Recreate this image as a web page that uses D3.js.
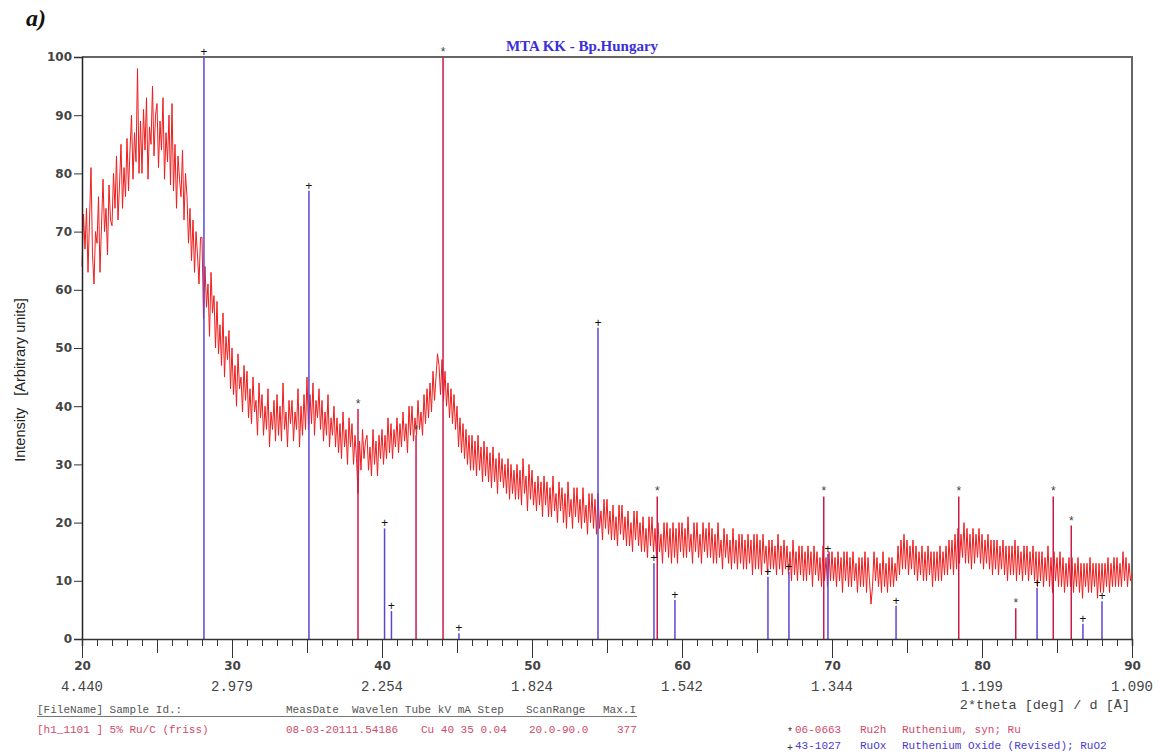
<!DOCTYPE html>
<html>
<head>
<meta charset="utf-8">
<script src="https://cdn.jsdelivr.net/npm/d3@7"></script>
<style>
  body { margin: 0; background: #fff; }
  svg text { white-space: pre; }
</style>
</head>
<body>
<div id="chart"></div>
<script>
// scan grid: 20.0 .. 90.0 deg, every 0.1 deg
const scanStart = 20, scanStep = 0.1;
// measured intensity (one row per degree)
const intensity = [
  64, 73, 67, 74, 63, 72, 81, 66, 61, 70,
  68, 76, 63, 71, 79, 70, 74, 66, 78, 72,
  71, 80, 74, 83, 72, 78, 85, 74, 81, 76,
  86, 77, 84, 90, 79, 87, 82, 98, 80, 89,
  80, 91, 84, 93, 79, 88, 85, 95, 83, 90,
  92, 81, 89, 84, 93, 79, 87, 82, 90, 78,
  92, 77, 85, 74, 83, 79, 76, 84, 72, 80,
  76, 68, 74, 65, 72, 63, 70, 66, 61, 69,
  69, 55, 64, 57, 61, 52, 63, 56, 59, 50,
  58, 49, 54, 47, 56, 45, 52, 48, 53, 43,
  50, 42, 47, 40, 49, 43, 45, 39, 47, 41,
  46, 38, 43, 37, 45, 39, 41, 35, 44, 38,
  42, 35, 40, 36, 43, 33, 39, 36, 41, 34,
  42, 35, 40, 34, 44, 36, 39, 33, 41, 37,
  41, 34, 39, 36, 43, 33, 40, 35, 42, 36,
  45, 36, 42, 37, 44, 35, 41, 38, 43, 36,
  41, 34, 39, 35, 42, 33, 38, 35, 40, 33,
  38, 32, 37, 31, 39, 33, 36, 30, 38, 33,
  37, 30, 35, 31, 25, 34, 29, 36, 31, 34,
  35, 29, 33, 28, 36, 30, 34, 28, 35, 31,
  36, 30, 35, 31, 38, 32, 37, 31, 36, 33,
  38, 32, 37, 33, 39, 34, 37, 32, 40, 35,
  40, 34, 38, 35, 41, 36, 39, 35, 42, 37,
  43, 38, 44, 39, 46, 41, 45, 49, 47, 42,
  48, 41, 46, 40, 44, 38, 43, 37, 42, 36,
  40, 33, 38, 32, 37, 31, 36, 30, 35, 29,
  35, 29, 34, 28, 35, 29, 33, 27, 34, 28,
  33, 27, 32, 26, 33, 27, 31, 25, 32, 27,
  31, 26, 30, 25, 31, 24, 30, 25, 29, 24,
  30, 24, 29, 23, 31, 25, 28, 22, 30, 24,
  29, 23, 27, 22, 28, 23, 27, 21, 28, 23,
  27, 21, 26, 21, 28, 22, 25, 20, 27, 22,
  26, 20, 25, 19, 27, 21, 24, 19, 26, 21,
  26, 20, 24, 19, 26, 20, 23, 18, 25, 20,
  25, 19, 24, 18, 25, 19, 22, 17, 24, 19,
  24, 18, 22, 17, 23, 17, 21, 16, 23, 18,
  23, 17, 21, 16, 22, 16, 20, 15, 22, 17,
  22, 16, 20, 15, 21, 15, 19, 14, 21, 16,
  21, 15, 19, 14, 20, 15, 18, 13, 20, 15,
  20, 14, 19, 13, 20, 14, 19, 13, 20, 15,
  20, 14, 19, 14, 21, 15, 18, 13, 20, 15,
  20, 14, 18, 13, 20, 15, 19, 14, 20, 14,
  19, 13, 18, 13, 20, 14, 17, 12, 19, 14,
  18, 13, 17, 12, 19, 13, 17, 12, 18, 13,
  18, 12, 17, 12, 18, 13, 17, 11, 18, 12,
  18, 12, 17, 11, 18, 13, 16, 11, 17, 12,
  17, 12, 16, 11, 18, 12, 16, 11, 17, 12,
  16, 11, 15, 10, 17, 11, 15, 10, 16, 11,
  16, 10, 15, 10, 16, 11, 15, 9, 16, 11,
  15, 10, 14, 9, 16, 10, 14, 9, 15, 10,
  15, 10, 14, 9, 15, 10, 14, 8, 15, 10,
  15, 9, 14, 9, 15, 10, 13, 8, 14, 9,
  14, 9, 15, 8, 14, 10, 6, 9, 15, 10,
  14, 9, 13, 8, 15, 9, 13, 8, 14, 9,
  14, 9, 13, 10, 16, 11, 17, 12, 18, 12,
  17, 11, 16, 12, 17, 11, 16, 10, 15, 11,
  16, 10, 15, 10, 16, 11, 15, 9, 15, 10,
  15, 10, 16, 10, 15, 11, 16, 11, 17, 12,
  17, 11, 18, 12, 19, 13, 18, 14, 20, 13,
  19, 13, 18, 12, 19, 13, 18, 14, 19, 13,
  18, 12, 17, 13, 18, 12, 17, 11, 17, 12,
  17, 11, 16, 12, 17, 11, 16, 10, 16, 11,
  16, 11, 17, 10, 16, 11, 15, 10, 16, 11,
  16, 10, 15, 11, 16, 10, 15, 9, 15, 10,
  15, 9, 14, 10, 16, 9, 14, 8, 15, 10,
  14, 9, 15, 9, 14, 8, 13, 9, 14, 9,
  14, 8, 13, 9, 14, 8, 13, 7, 13, 9,
  13, 8, 14, 8, 13, 9, 13, 7, 13, 8,
  13, 8, 13, 9, 14, 8, 13, 9, 14, 9,
  14, 9, 13, 9, 15, 10, 14, 9, 13, 10,
  11
];

// reference cards
const ruPos = [38.4, 42.27, 44.07, 58.35, 69.45, 78.45, 82.25, 84.75, 85.95];
const ruInt = [39.5, 35, 100, 24.5, 24.5, 24.5, 5.3, 24.5, 19.5];
const ruo2Pos = [28.13, 35.13, 40.17, 40.63, 45.13, 54.4, 58.13, 59.53, 65.73, 67.13, 69.73, 74.27, 83.67, 86.73, 88.0];
const ruo2Int = [100, 77, 19, 4.8, 1, 53.5, 13, 6.7, 10.7, 11.5, 14.6, 5.7, 8.8, 2.6, 6.5];

const yTicks = [0, 10, 20, 30, 40, 50, 60, 70, 80, 90, 100];
const xMajor = [20, 30, 40, 50, 60, 70, 80, 90];
const dLabels = ["4.440", "2.979", "2.254", "1.824", "1.542", "1.344", "1.199", "1.090"];

const [width, height] = [1161, 753];
const plot = {left: 82, right: 1132, top: 57, bottom: 639};

const svg = d3.select("#chart")
  .append("svg")
  .attr("width", width)
  .attr("height", height);

const x = d3.scaleLinear().domain([20, 90]).range([plot.left, plot.right]);
const y = d3.scaleLinear().domain([0, 100]).range([plot.bottom, plot.top]);

// frame (top + right)
svg.append("path")
  .attr("d", `M${plot.left},${plot.top}H${plot.right}V${plot.bottom}`)
  .attr("fill", "none").attr("stroke", "#666").attr("stroke-width", 2);

// measured pattern
const line = d3.line()
  .x((d, i) => x(scanStart + i * scanStep))
  .y(d => y(d));
svg.append("path")
  .datum(intensity)
  .attr("d", line)
  .attr("fill", "none")
  .attr("stroke", "#ee1c1c")
  .attr("stroke-width", 1);

// stick patterns
const ru = ruPos.map((p, i) => ({p, v: ruInt[i]}));
const ruo2 = ruo2Pos.map((p, i) => ({p, v: ruo2Int[i]}));

svg.selectAll(".ru").data(ru).enter().append("line")
  .attr("class", "ru")
  .attr("x1", d => x(d.p)).attr("x2", d => x(d.p))
  .attr("y1", y(0)).attr("y2", d => y(d.v))
  .attr("stroke", "#cc1a48").attr("stroke-width", 1.5);
svg.selectAll(".ruo2").data(ruo2).enter().append("line")
  .attr("class", "ruo2")
  .attr("x1", d => x(d.p)).attr("x2", d => x(d.p))
  .attr("y1", y(0)).attr("y2", d => y(d.v))
  .attr("stroke", "#5a46d6").attr("stroke-width", 1.5);

svg.selectAll(".ruMark").data(ru).enter().append("text")
  .attr("x", d => x(d.p)).attr("y", d => y(d.v) - 1)
  .attr("text-anchor", "middle")
  .style("font", "12px 'Liberation Mono', monospace").attr("fill", "#444")
  .text("*");
svg.selectAll(".ruo2Mark").data(ruo2).enter().append("text")
  .attr("x", d => x(d.p)).attr("y", d => y(d.v) - 1)
  .attr("text-anchor", "middle")
  .style("font", "12px 'Liberation Mono', monospace").attr("fill", "#111")
  .text("+");

// y axis
const yAxis = svg.append("g")
  .attr("transform", `translate(${plot.left},0)`)
  .call(d3.axisLeft(y).tickValues(yTicks).tickSize(8).tickPadding(2));
yAxis.select(".domain").attr("stroke", "#222").attr("stroke-width", 1.5);
yAxis.selectAll(".tick line").attr("stroke", "#333");
yAxis.selectAll("text")
  .style("font", "bold 12px 'DejaVu Sans', sans-serif").attr("fill", "#444");

// x axis: minor (1 deg), mid (5 deg), major (10 deg)
const xMinor = svg.append("g")
  .attr("transform", `translate(0,${plot.bottom})`)
  .call(d3.axisBottom(x).tickValues(d3.range(20, 91, 1)).tickSize(7).tickFormat(""));
xMinor.select(".domain").attr("stroke", "#333").attr("stroke-width", 1.5);
xMinor.selectAll(".tick line").attr("stroke", "#333");

const xMid = svg.append("g")
  .attr("transform", `translate(0,${plot.bottom})`)
  .call(d3.axisBottom(x).tickValues(d3.range(25, 90, 10)).tickSize(14).tickFormat(""));
xMid.select(".domain").remove();
xMid.selectAll(".tick line").attr("stroke", "#333");

const xAxis = svg.append("g")
  .attr("transform", `translate(0,${plot.bottom})`)
  .call(d3.axisBottom(x).tickValues(xMajor).tickSize(19).tickPadding(3));
xAxis.select(".domain").remove();
xAxis.selectAll(".tick line").attr("stroke", "#333");
xAxis.selectAll("text")
  .style("font", "bold 12px 'DejaVu Sans', sans-serif").attr("fill", "#444");

// d-spacing labels
svg.selectAll(".dlab").data(xMajor).enter().append("text")
  .attr("x", d => x(d)).attr("y", 691)
  .attr("text-anchor", "middle")
  .style("font", "14px 'Liberation Mono', monospace").attr("fill", "#444")
  .text((d, i) => dLabels[i]);

svg.append("text")
  .attr("x", 1130).attr("y", 709)
  .attr("text-anchor", "end")
  .style("font", "13.5px 'Liberation Mono', monospace").attr("fill", "#444")
  .text("2*theta [deg] / d [Å]");

// titles
svg.append("text")
  .attr("x", 26).attr("y", 26)
  .style("font", "italic bold 24px 'Liberation Serif', serif").attr("fill", "#111")
  .text("a)");
svg.append("text")
  .attr("x", 582).attr("y", 51)
  .attr("text-anchor", "middle")
  .style("font", "bold 15px 'Liberation Serif', serif").attr("fill", "#3b2fd8")
  .text("MTA KK - Bp.Hungary");
svg.append("text")
  .attr("transform", "translate(25,380) rotate(-90)")
  .attr("text-anchor", "middle")
  .style("font", "14.5px 'Liberation Sans', Arial, sans-serif").attr("fill", "#222")
  .text("Intensity   [Arbitrary units]");

// footer
const mono = "11px 'Liberation Mono', monospace";
const header = [
  {x: 37, t: "[FileName] Sample Id.:"},
  {x: 286, t: "MeasDate  Wavelen Tube kV mA Step"},
  {x: 526, t: "ScanRange"},
  {x: 603, t: "Max.I"}
];
const row = [
  {x: 37, t: "[h1_1101 ] 5% Ru/C (friss)"},
  {x: 286, t: "08-03-20111.54186"},
  {x: 421, t: "Cu 40 35 0.04"},
  {x: 529, t: "20.0-90.0"},
  {x: 617, t: "377"}
];
svg.selectAll(".hdr").data(header).enter().append("text")
  .attr("x", d => d.x).attr("y", 713)
  .style("font", mono).attr("fill", "#555").text(d => d.t);
svg.append("line")
  .attr("x1", 37).attr("x2", 637).attr("y1", 716.5).attr("y2", 716.5)
  .attr("stroke", "#777").attr("stroke-width", 1);
svg.selectAll(".row").data(row).enter().append("text")
  .attr("x", d => d.x).attr("y", 733)
  .style("font", mono).attr("fill", "#d04a6a").text(d => d.t);

// legend of cards
const legend = [
  {mark: "*", cols: ["06-0663", "Ru2h", "Ruthenium, syn; Ru"], color: "#d04a6a", y: 733},
  {mark: "+", cols: ["43-1027", "RuOx", "Ruthenium Oxide (Revised); RuO2"], color: "#4a3ad0", y: 749}
];
const colX = [795, 860, 902];
legend.forEach(l => {
  svg.append("text").attr("x", 790).attr("y", l.y + 2)
    .attr("text-anchor", "middle")
    .style("font", "10px 'Liberation Mono', monospace").attr("fill", "#333")
    .text(l.mark);
  l.cols.forEach((c, i) => {
    svg.append("text").attr("x", colX[i]).attr("y", l.y)
      .style("font", mono).attr("fill", l.color).text(c);
  });
});
</script>
</body>
</html>
